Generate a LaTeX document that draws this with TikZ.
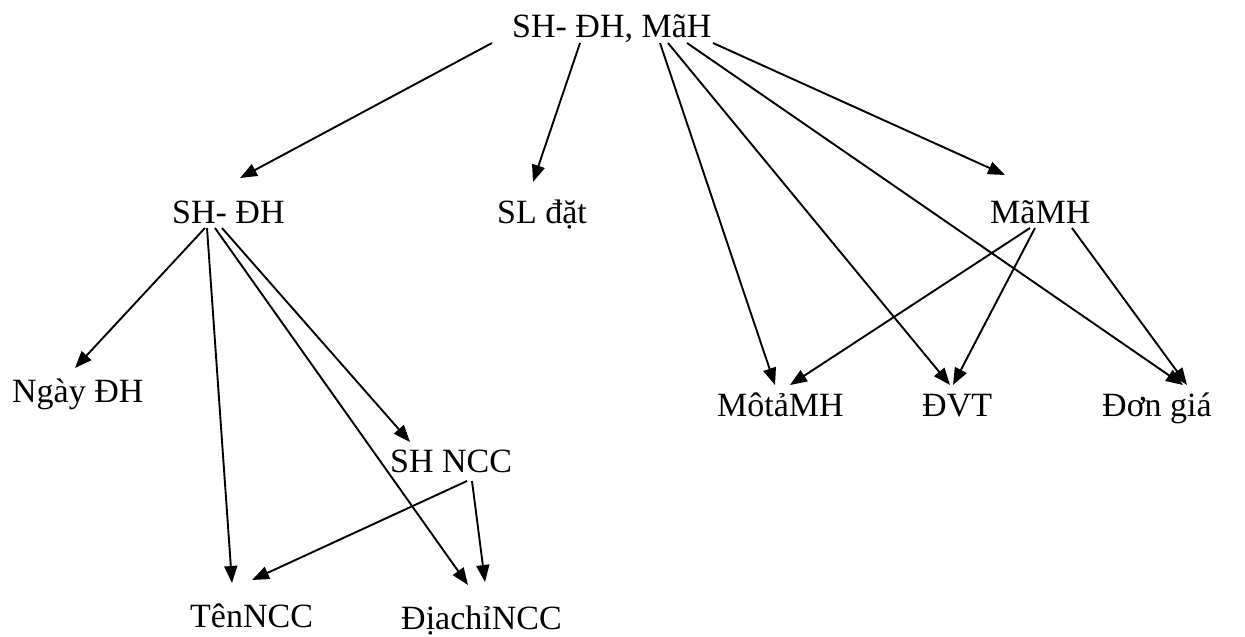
\documentclass[tikz,border=0pt]{standalone}
\usepackage{fontspec}
\setmainfont{Liberation Serif}
\usetikzlibrary{arrows.meta}
\begin{document}
\begin{tikzpicture}[x=1pt,y=-1pt,
  lbl/.style={anchor=base west,inner sep=0pt,font=\fontsize{34}{40}\selectfont},
  arr/.style={line width=1.9pt,-{Triangle[length=17pt,width=13pt]}}]
\useasboundingbox (0,0) rectangle (1245,637);
\node[lbl] (top) at (512,37) {SH- ĐH, MãH};
\node[lbl] (shdh) at (172,223) {SH- ĐH};
\node[lbl] (sl) at (497,223) {SL đặt};
\node[lbl] (mamh) at (990,223) {MãMH};
\node[lbl] (ngay) at (12,402) {Ngày ĐH};
\node[lbl] (shncc) at (390,472) {SH NCC};
\node[lbl] (ten) at (190,627) {TênNCC};
\node[lbl] (diachi) at (401,629) {ĐịachỉNCC};
\node[lbl] (mota) at (717,416) {MôtảMH};
\node[lbl] (dvt) at (922,416) {ĐVT};
\node[lbl] (dongia) at (1102,416) {Đơn giá};
% from top
\draw[arr] ([shift={(-20,6)}]top.base west) -- ([shift={(68,-45)}]shdh.base west);
\draw[arr] ([shift={(68,6)}]top.base west) -- ([shift={(36,-41)}]sl.base west);
\draw[arr] ([shift={(148,6)}]top.base west) -- ([shift={(58,-31)}]mota.base west);
\draw[arr] ([shift={(156,6)}]top.base west) -- ([shift={(28,-31)}]dvt.base west);
\draw[arr] ([shift={(175,6)}]top.base west) -- ([shift={(81,-31)}]dongia.base west);
\draw[arr] ([shift={(201,6)}]top.base west) -- ([shift={(15,-48)}]mamh.base west);
% from SH- DH
\draw[arr] ([shift={(33,5)}]shdh.base west) -- ([shift={(63,-34)}]ngay.base west);
\draw[arr] ([shift={(35,5)}]shdh.base west) -- ([shift={(42,-44)}]ten.base west);
\draw[arr] ([shift={(43,5)}]shdh.base west) -- ([shift={(67,-44)}]diachi.base west);
\draw[arr] ([shift={(50,5)}]shdh.base west) -- ([shift={(20,-30)}]shncc.base west);
% from SH NCC
\draw[arr] ([shift={(77,9)}]shncc.base west) -- ([shift={(62,-47)}]ten.base west);
\draw[arr] ([shift={(82,9)}]shncc.base west) -- ([shift={(84,-47)}]diachi.base west);
% from MaMH
\draw[arr] ([shift={(40,5)}]mamh.base west) -- ([shift={(73,-31)}]mota.base west);
\draw[arr] ([shift={(45,5)}]mamh.base west) -- ([shift={(31,-31)}]dvt.base west);
\draw[arr] ([shift={(82,5)}]mamh.base west) -- ([shift={(85,-31)}]dongia.base west);
\end{tikzpicture}
\end{document}
